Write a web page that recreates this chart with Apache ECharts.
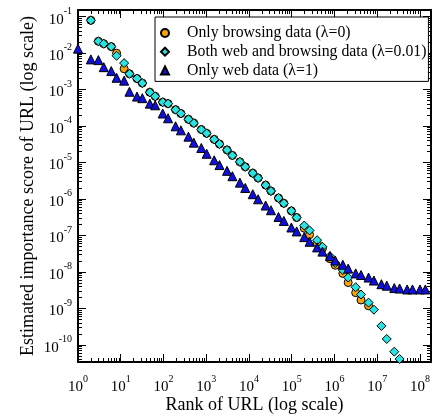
<!DOCTYPE html>
<html>
<head>
<meta charset="utf-8">
<script src="https://cdn.jsdelivr.net/npm/echarts@6/dist/echarts.min.js"></script>
<style>
  html, body { margin: 0; padding: 0; background: #fff; }
  #chart { width: 434px; height: 419px; }
</style>
</head>
<body>
<div id="chart"></div>
<script>
// URL ranks (log-binned)
const ranks = [1, 2, 3, 4, 6, 8, 12, 16, 24, 32, 48, 64, 96, 128, 192, 256, 384, 512,
  768, 1024, 1536, 2048, 3072, 4096, 6144, 8192, 12288, 16384, 24576, 32768, 49152,
  65536, 98304, 131072, 196608, 262144, 393216, 524288, 786432, 1048576, 1572864,
  2097152, 3145728, 4194304, 6291456, 8388608, 12582912, 16777216, 25165824,
  33554432, 50331648, 67108864, 100663296, 134217728];

// Only browsing data (lambda = 0)
const browsingOnly = [null, 7.9e-2, 2.1e-2, 1.8e-2, 1.5e-2, 9.9e-3, 3.7e-3, 2.7e-3, 2.0e-3,
  1.5e-3, 8.4e-4, 6.5e-4, 4.5e-4, 4.1e-4, 2.8e-4, 2.2e-4, 1.53e-4, 1.2e-4, 8.0e-5, 6.3e-5,
  4.3e-5, 3.2e-5, 2.2e-5, 1.56e-5, 1.04e-5, 7.6e-6, 5.1e-6, 3.75e-6, 2.4e-6, 1.65e-6,
  1.06e-6, 7.6e-7, 4.7e-7, 3.1e-7, 1.58e-7, 1.05e-7, 6.3e-8, 4.4e-8, 2.3e-8, 1.52e-8,
  9.1e-9, 5.1e-9, 2.7e-9, 1.7e-9, 1.18e-9, null, null, null, null, null, null, null, null, null];

// Both web and browsing data (lambda = 0.01)
const webAndBrowsing = [null, 7.9e-2, 2.1e-2, 1.8e-2, 1.5e-2, 8.4e-3, 5.3e-3, 2.7e-3, 2.0e-3,
  1.5e-3, 8.4e-4, 6.5e-4, 4.5e-4, 4.1e-4, 2.8e-4, 2.2e-4, 1.53e-4, 1.2e-4, 8.0e-5, 6.3e-5,
  4.3e-5, 3.2e-5, 2.2e-5, 1.56e-5, 1.04e-5, 7.6e-6, 5.1e-6, 3.75e-6, 2.4e-6, 1.65e-6,
  1.06e-6, 7.6e-7, 4.7e-7, 3.1e-7, 1.87e-7, 1.37e-7, 7.4e-8, 4.9e-8, 2.7e-8, 1.75e-8,
  1.12e-8, 7.0e-9, 3.8e-9, 2.4e-9, 1.44e-9, 9.2e-10, 3.3e-10, 1.45e-10, 6.5e-11, 4.1e-11,
  null, null, null, null];

// Only web data (lambda = 1)
const webOnly = [1.32e-2, 6.7e-3, 6.4e-3, 4.1e-3, 3.2e-3, 2.1e-3, 1.75e-3, 8.7e-4, 6.4e-4,
  5.8e-4, 4.1e-4, 3.7e-4, 2.2e-4, 1.63e-4, 9.8e-5, 7.6e-5, 5.1e-5, 3.5e-5, 2.5e-5, 1.73e-5,
  1.15e-5, 8.5e-6, 5.9e-6, 4.2e-6, 2.8e-6, 2.0e-6, 1.35e-6, 9.8e-7, 6.6e-7, 4.9e-7,
  3.2e-7, 2.5e-7, 1.65e-7, 1.29e-7, 9.0e-8, 6.7e-8, 4.7e-8, 3.6e-8, 2.7e-8, 2.06e-8,
  1.57e-8, 1.23e-8, 9.1e-9, 8.2e-9, 7.0e-9, 5.8e-9, 4.6e-9, 4.2e-9, 3.6e-9, 3.5e-9,
  3.3e-9, 3.3e-9, 3.3e-9, 3.3e-9];

const seriesNames = [
  'Only browsing data (\u03bb=0)',
  'Both web and browsing data (\u03bb=0.01)',
  'Only web data (\u03bb=1)'
];

const X_MIN = 1, X_MAX = Math.pow(10, 8.26);
const Y_MIN = Math.pow(10, -10.47), Y_MAX = Math.pow(10, -0.82);
const FONT = 'Liberation Serif';

function pairs(values) {
  const out = [];
  ranks.forEach((r, i) => { if (values[i] != null) out.push([r, values[i]]); });
  return out;
}

// "10" with the exponent as a superscript; blank for non-decade ticks
function powerLabel(value) {
  const e = Math.log10(value);
  const n = Math.round(e);
  if (Math.abs(e - n) > 1e-6) return '';
  return '{b|10}{s|' + n + '}';
}

const labelRich = {
  b: { fontFamily: FONT, fontSize: 15, color: '#000', padding: [6, 0, 0, 0] },
  s: { fontFamily: FONT, fontSize: 10, color: '#000', verticalAlign: 'top' }
};

function logAxis(extra) {
  return Object.assign({
    type: 'log',
    logBase: 10,
    nameMoveOverlap: false,
    axisLine: { show: true, onZero: false, lineStyle: { color: '#000', width: 2 } },
    axisTick: { show: true, inside: true, length: 8, lineStyle: { color: '#000', width: 1 } },
    minorTick: { show: true, splitNumber: 9, length: 4, lineStyle: { color: '#000', width: 1 } },
    splitLine: { show: false },
    minorSplitLine: { show: false }
  }, extra);
}

const chart = echarts.init(document.getElementById('chart'), null, { renderer: 'canvas' });

chart.setOption({
  animation: false,
  backgroundColor: '#fff',
  grid: { left: 78, top: 10, width: 360, height: 363, containLabel: false },
  xAxis: [
    logAxis({
      position: 'bottom', min: X_MIN, max: X_MAX,
      name: 'Rank of URL (log scale)', nameLocation: 'middle', nameGap: 34,
      nameTextStyle: { fontFamily: FONT, fontSize: 18, color: '#000' },
      axisLabel: { show: true, margin: 12, formatter: powerLabel, rich: labelRich }
    }),
    logAxis({ position: 'top', min: X_MIN, max: X_MAX, axisLabel: { show: false } })
  ],
  yAxis: [
    logAxis({
      position: 'left', min: Y_MIN, max: Y_MAX,
      name: 'Estimated importance score of URL (log scale)', nameLocation: 'middle', nameGap: 41,
      nameTextStyle: { fontFamily: FONT, fontSize: 18, color: '#000' },
      axisLabel: { show: true, margin: 6, formatter: powerLabel, rich: labelRich }
    }),
    logAxis({ position: 'right', min: Y_MIN, max: Y_MAX, axisLabel: { show: false } })
  ],
  legend: {
    orient: 'vertical',
    left: 155, top: 17,
    padding: [8, 2, 3, 5],
    itemGap: 2.7,
    itemWidth: 8, itemHeight: 8,
    borderColor: '#000', borderWidth: 1,
    backgroundColor: '#fff',
    textStyle: { fontFamily: FONT, fontSize: 15.8, color: '#000', lineHeight: 16, padding: [0, 0, 0, 13] },
    data: seriesNames
  },
  series: [
    {
      name: seriesNames[0], type: 'scatter', clip: false,
      symbol: 'circle', symbolSize: 8,
      itemStyle: { color: '#f7a30a', borderColor: '#000', borderWidth: 1, opacity: 1 },
      data: pairs(browsingOnly), z: 2
    },
    {
      name: seriesNames[1], type: 'scatter', clip: false,
      symbol: 'diamond', symbolSize: 9,
      itemStyle: { color: '#27e4e4', borderColor: '#000', borderWidth: 1, opacity: 1 },
      data: pairs(webAndBrowsing), z: 3
    },
    {
      name: seriesNames[2], type: 'scatter', clip: false,
      symbol: 'triangle', symbolSize: 9,
      itemStyle: { color: '#1010dc', borderColor: '#000', borderWidth: 1, opacity: 1 },
      data: pairs(webOnly), z: 4
    }
  ]
});
</script>
</body>
</html>
